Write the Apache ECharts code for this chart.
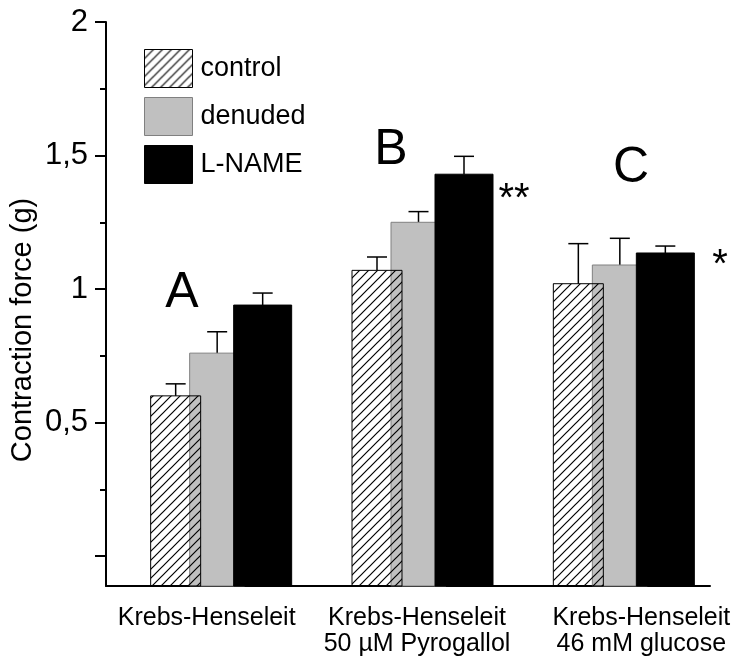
<!DOCTYPE html>
<html lang="en">
<head>
<meta charset="UTF-8">
<title>Contraction force</title>
<script src="https://cdn.jsdelivr.net/npm/echarts@6/dist/echarts.min.js"></script>
<style>
  html, body { margin: 0; padding: 0; background: #fff; }
  #main { width: 735px; height: 657px; }
</style>
</head>
<body>
<div id="main"></div>
<script>
// categories and values
var categories = ['Krebs-Henseleit', 'Krebs-Henseleit\n50 µM Pyrogallol', 'Krebs-Henseleit\n46 mM glucose'];
var seriesNames = ['control', 'denuded', 'L-NAME'];
var control = [0.60, 1.07, 1.02];
var controlErr = [0.045, 0.05, 0.15];
var denuded = [0.76, 1.25, 1.09];
var denudedErr = [0.08, 0.04, 0.10];
var lname = [0.94, 1.43, 1.135];
var lnameErr = [0.045, 0.067, 0.026];
var tickLabels = [0.5, 1, 1.5, 2];
var majorTicks = [0, 0.5, 1, 1.5, 2];
var minorTicks = [0.25, 0.75, 1.25, 1.75];

var FONT = '"Liberation Sans", Arial, sans-serif';
var Y_MIN = -0.112, Y_MAX = 2;
// the labels in the figure sit a little right of the group centres
var labelShift = [0, 18, 64];

// diagonal hatch for the control bars
function makeHatch(size) {
    var c = document.createElement('canvas');
    c.width = size; c.height = size;
    var ctx = c.getContext('2d');
    ctx.strokeStyle = '#000';
    ctx.lineWidth = 1.2;
    ctx.beginPath();
    ctx.moveTo(0, size); ctx.lineTo(size, 0);
    ctx.moveTo(-1, 1); ctx.lineTo(1, -1);
    ctx.moveTo(size - 1, size + 1); ctx.lineTo(size + 1, size - 1);
    ctx.stroke();
    return { image: c, repeat: 'repeat' };
}
var hatch = makeHatch(9);

function toData(vals, errs) {
    return vals.map(function (v, i) { return [i, v, errs[i]]; });
}

// bar drawn from the bottom of the axis, with an upward error bar
function barRender(dx0, dx1, fill, stroke) {
    return function (params, api) {
        var i = api.value(0);
        var top = api.coord([i, api.value(1)]);
        var base = api.coord([i, Y_MIN]);
        var errTop = api.coord([i, api.value(1) + api.value(2)]);
        var x0 = top[0] + dx0, x1 = top[0] + dx1;
        var xm = (x0 + x1) / 2;
        return {
            type: 'group',
            children: [
                { type: 'line', shape: { x1: xm, y1: top[1], x2: xm, y2: errTop[1] },
                  style: { stroke: '#000', lineWidth: 1.5 } },
                { type: 'line', shape: { x1: xm - 10, y1: errTop[1], x2: xm + 10, y2: errTop[1] },
                  style: { stroke: '#000', lineWidth: 1.5 } },
                { type: 'rect', shape: { x: x0, y: top[1], width: x1 - x0, height: base[1] - top[1] },
                  style: { fill: fill, stroke: stroke, lineWidth: 1 } }
            ]
        };
    };
}

var labelRich = {};
labelShift.forEach(function (p, i) {
    labelRich['l' + i] = { fontSize: 25, lineHeight: 26, color: '#000', fontFamily: FONT, padding: [0, 0, 0, p] };
});

var chart = echarts.init(document.getElementById('main'));
var option = {
    animation: false,
    backgroundColor: '#fff',
    textStyle: { fontFamily: FONT },
    grid: { left: 106, right: 25, top: 22, bottom: 71 },
    legend: {
        orient: 'vertical',
        left: 144,
        top: 49,
        padding: 0,
        itemWidth: 48,
        itemHeight: 38,
        itemGap: 9,
        icon: 'rect',
        textStyle: { fontSize: 27, color: '#000', fontFamily: FONT, padding: [0, 0, 0, 3] },
        data: [
            { name: 'control', itemStyle: { color: hatch, borderColor: '#000', borderWidth: 1 } },
            { name: 'denuded', itemStyle: { color: '#c0c0c0', borderColor: '#808080', borderWidth: 1 } },
            { name: 'L-NAME', itemStyle: { color: '#000', borderColor: '#000', borderWidth: 1 } }
        ]
    },
    xAxis: {
        type: 'category',
        data: categories,
        axisLine: { onZero: false, lineStyle: { color: '#000', width: 2 } },
        axisTick: { show: false },
        axisLabel: {
            interval: 0, color: '#000', fontSize: 25, lineHeight: 26, margin: 19, fontFamily: FONT,
            rich: labelRich,
            formatter: function (v, i) {
                return v.split('\n').map(function (s) { return '{l' + i + '|' + s + '}'; }).join('\n');
            }
        },
        splitLine: { show: false }
    },
    yAxis: [{
        type: 'value',
        min: Y_MIN,
        max: Y_MAX,
        axisLine: { show: true, lineStyle: { color: '#000', width: 2 } },
        axisTick: { show: true, length: 11, customValues: majorTicks, lineStyle: { color: '#000', width: 2 } },
        axisLabel: {
            customValues: tickLabels,
            color: '#000', fontSize: 31, margin: 18, fontFamily: FONT,
            formatter: function (v) { return String(v).replace('.', ','); }
        },
        splitLine: { show: false }
    }, {
        type: 'value',
        min: Y_MIN,
        max: Y_MAX,
        position: 'left',
        axisLine: { show: false },
        axisTick: { show: true, length: 6, customValues: minorTicks, lineStyle: { color: '#000', width: 2 } },
        axisLabel: { show: false },
        splitLine: { show: false }
    }],
    graphic: [
        { type: 'text', x: 23, y: 330, rotation: Math.PI / 2,
          style: { text: 'Contraction force (g)', font: '29px ' + FONT, fill: '#000',
                   textAlign: 'center', textVerticalAlign: 'middle' } },
        { type: 'text', x: 182, y: 293, style: { text: 'A', font: '50px ' + FONT, fill: '#000', textAlign: 'center', textVerticalAlign: 'middle' } },
        { type: 'text', x: 391, y: 150, style: { text: 'B', font: '50px ' + FONT, fill: '#000', textAlign: 'center', textVerticalAlign: 'middle' } },
        { type: 'text', x: 631, y: 168, style: { text: 'C', font: '50px ' + FONT, fill: '#000', textAlign: 'center', textVerticalAlign: 'middle' } },
        { type: 'text', x: 514, y: 200, style: { text: '**', font: '40px ' + FONT, fill: '#000', textAlign: 'center', textVerticalAlign: 'middle' } },
        { type: 'text', x: 720, y: 266, style: { text: '*', font: '40px ' + FONT, fill: '#000', textAlign: 'center', textVerticalAlign: 'middle' } }
    ],
    series: [
        { name: 'control', type: 'custom', z: 3, yAxisIndex: 0,
          itemStyle: { color: hatch, borderColor: '#000' },
          renderItem: barRender(-56, -6, hatch, '#000'),
          data: toData(control, controlErr) },
        { name: 'denuded', type: 'custom', z: 1, yAxisIndex: 0,
          itemStyle: { color: '#c0c0c0', borderColor: '#808080' },
          renderItem: barRender(-17, 38, '#c0c0c0', '#808080'),
          data: toData(denuded, denudedErr) },
        { name: 'L-NAME', type: 'custom', z: 2, yAxisIndex: 0,
          itemStyle: { color: '#000' },
          renderItem: barRender(27, 85, '#000', '#000'),
          data: toData(lname, lnameErr) }
    ]
};
chart.setOption(option);
</script>
</body>
</html>
